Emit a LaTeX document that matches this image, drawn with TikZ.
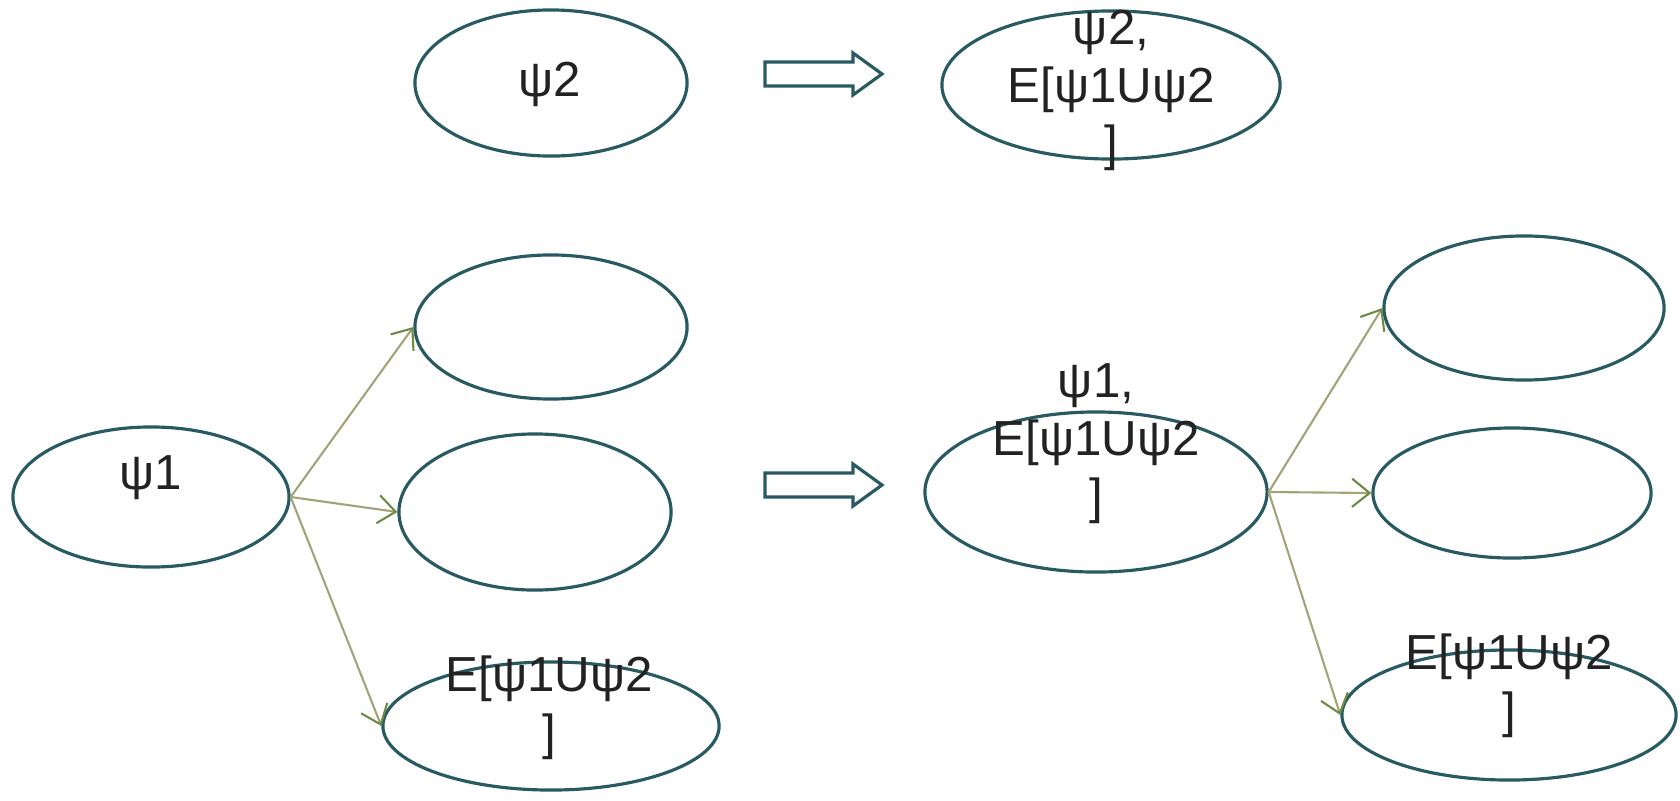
\documentclass[tikz,border=0pt]{standalone}
\usepackage{fontspec}
\setmainfont{Liberation Sans}
\usetikzlibrary{shapes.geometric,arrows.meta}
\definecolor{ring}{HTML}{285A62}
\definecolor{linkc}{HTML}{A3A37A}
\definecolor{tipc}{HTML}{6E8A45}
\definecolor{ink}{HTML}{222222}
\tikzset{
  pics/bigarrow/.style={code={
    \draw[bigshape] (0,-12) -- (88,-12) -- (88,-21) -- (117,0) -- (88,21) -- (88,12) -- (0,12) -- cycle;}}
}
\begin{document}
\begin{tikzpicture}[x=0.01cm,y=-0.01cm,
  state/.style={ellipse, draw=ring, line width=0.9pt, fill=white, inner sep=0pt},
  lbl/.style={text=ink, font=\fontsize{14}{16.5}\selectfont, align=center, inner sep=0pt},
  linkarrow/.style={draw=linkc, line width=0.6pt, -{Straight Barb[length=5pt,width=8pt,color=tipc]}},
  bigshape/.style={draw=ring, line width=0.9pt, fill=white, line join=miter}]
\useasboundingbox (0,0) rectangle (1680,800);

% top row: psi2 becomes labelled with E[psi1 U psi2]
\node[state, minimum width=2.72cm, minimum height=1.46cm] (s2) at (551,83) {};
\node[state, minimum width=3.38cm, minimum height=1.48cm] (s2e) at (1111,85) {};
\pic at (765,74) {bigarrow};

% bottom-left: psi1 and its successors
\node[state, minimum width=2.76cm, minimum height=1.40cm] (p1) at (151,497) {};
\node[state, minimum width=2.72cm, minimum height=1.44cm] (a1) at (551,327) {};
\node[state, minimum width=2.72cm, minimum height=1.56cm] (a2) at (535,512) {};
\node[state, minimum width=3.36cm, minimum height=1.28cm] (a3) at (551,726) {};

\pic at (765,485) {bigarrow};

% bottom-right: psi1 gets labelled once a successor has the label
\node[state, minimum width=3.42cm, minimum height=1.60cm] (q1) at (1096,492) {};
\node[state, minimum width=2.80cm, minimum height=1.44cm] (b1) at (1524,308) {};
\node[state, minimum width=2.78cm, minimum height=1.30cm] (b2) at (1512,493) {};
\node[state, minimum width=3.34cm, minimum height=1.30cm] (b3) at (1509,715) {};

% transitions
\draw[linkarrow] (p1.east) -- (a1.west);
\draw[linkarrow] (p1.east) -- (a2.west);
\draw[linkarrow] (p1.east) -- (a3.west);
\draw[linkarrow] (q1.east) -- (b1.west);
\draw[linkarrow] (q1.east) -- (b2.west);
\draw[linkarrow] (q1.east) -- (b3.west);

% labels
\node[lbl] (ts2) at (550,84) {ψ2};
\node[lbl] (ts2e) at (1111,90) {ψ2,\\E[ψ1Uψ2\\]};
\node[lbl] (tp1) at (151,478) {ψ1};
\node[lbl] (ta3) at (549,708) {E[ψ1Uψ2\\]};
\node[lbl] (tq1) at (1096,444) {ψ1,\\E[ψ1Uψ2\\]};
\node[lbl] (tb3) at (1509,686) {E[ψ1Uψ2\\]};
\end{tikzpicture}
\end{document}
